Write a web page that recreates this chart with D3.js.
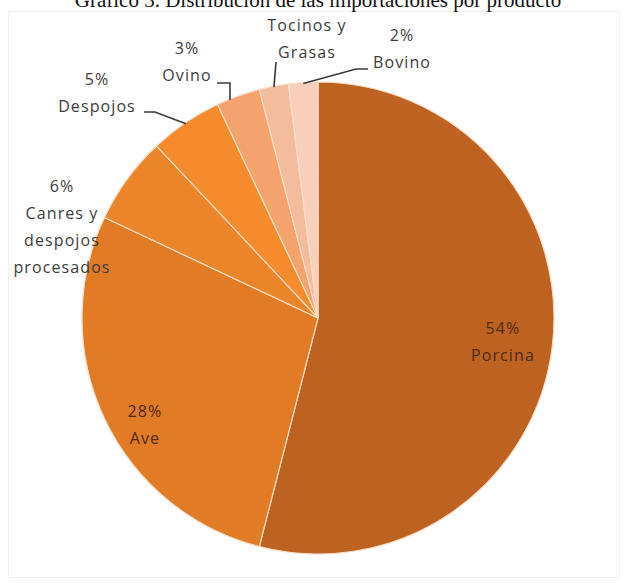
<!DOCTYPE html>
<html>
<head>
<meta charset="utf-8">
<script src="https://cdn.jsdelivr.net/npm/d3@7"></script>
<style>
  html, body { margin: 0; padding: 0; background: #ffffff; }
  svg { display: block; }
</style>
</head>
<body>
<svg id="chart" width="627" height="584"></svg>
<script>
// Meat import shares by product (percent)
const categories = ["Porcina", "Ave", "Canres y despojos procesados", "Despojos", "Ovino", "Tocinos y Grasas", "Bovino"];
const shares = [54, 28, 6, 5, 3, 2, 2];
// Label text lines per slice
const labelLines = [
  ["54%", "Porcina"],
  ["28%", "Ave"],
  ["6%", "Canres y", "despojos", "procesados"],
  ["5%", "Despojos"],
  ["3%", "Ovino"],
  ["Tocinos y", "Grasas"],
  ["2%", "Bovino"]
];
const titleText = "Gráfico 3. Distribución de las importaciones por producto";

const sliceColors = ["#BD6221", "#E27B25", "#EC8429", "#F58B2C", "#F4A36D", "#F3BC9C", "#F7CFBA"];

const W = 627, H = 584;
const cx = 318, cy = 318, R = 236;

const svg = d3.select("#chart");

// faint chart frame
svg.append("rect")
  .attr("x", 8.5).attr("y", 11.5).attr("width", 611).attr("height", 566)
  .attr("fill", "none").attr("stroke", "#f1f1f1").attr("stroke-width", 1);

// title, running off the top edge
svg.append("text")
  .attr("x", 318).attr("y", 7)
  .attr("text-anchor", "middle")
  .attr("font-family", "'Liberation Serif', serif")
  .attr("font-size", 21)
  .attr("fill", "#111")
  .text(titleText);

const data = categories.map((c, i) => ({ name: c, value: shares[i], lines: labelLines[i], color: sliceColors[i] }));

const pie = d3.pie().sort(null).value(d => d.value);
const arcs = pie(data);
const arc = d3.arc().innerRadius(0).outerRadius(R);
const edgeArc = d3.arc().innerRadius(R - 1).outerRadius(R - 1);

const g = svg.append("g").attr("transform", `translate(${cx},${cy})`);

g.selectAll("path.slice")
  .data(arcs)
  .join("path")
  .attr("class", "slice")
  .attr("d", arc)
  .attr("fill", d => d.data.color)
  .attr("stroke", "#F8DEC8")
  .attr("stroke-width", 1.2)
  .attr("stroke-linejoin", "round");

// Label layout: inside labels sit along the slice bisector; outside labels are anchored
// at a chosen point with a leader line back to the slice edge.
const fontFamily = "'Open Sans', sans-serif";
const fontSize = 16;
const lineGap = 27;

const labelLayout = [
  { inside: true, radius: 0.79, color: "#4E2A10" },
  { inside: true, radius: 0.86, angleShift: -0.11, color: "#4E2A10" },
  { x: 62, y: 192, color: "#3c3c3c" },
  { x: 97, y: 85, color: "#3c3c3c", leader: [[144, 112], [155, 112]] },
  { x: 187, y: 54, color: "#3c3c3c", leader: [[217, 83], [230, 83]], drop: true },
  { x: 307, y: 31, color: "#3c3c3c", leader: [[276, 62]] },
  { x: 402, y: 41, color: "#3c3c3c", leader: [[368, 69], [356, 69]] }
];

arcs.forEach((a, i) => {
  const L = labelLayout[i];
  let x, y;
  if (L.inside) {
    const mid = (a.startAngle + a.endAngle) / 2 + (L.angleShift || 0);
    const rr = R * L.radius;
    const block = (a.data.lines.length - 1) * lineGap;
    x = cx + rr * Math.sin(mid);
    y = cy - rr * Math.cos(mid) - block / 2 + 6;
  } else {
    x = L.x; y = L.y;
  }
  const t = svg.append("text")
    .attr("text-anchor", "middle")
    .attr("font-family", fontFamily)
    .attr("font-size", fontSize)
    .attr("font-weight", 500)
    .attr("letter-spacing", 1.1)
    .attr("fill", L.color);
  a.data.lines.forEach((ln, k) => {
    t.append("tspan").attr("x", x).attr("y", y + k * lineGap).text(ln);
  });

  if (L.leader) {
    let end;
    if (L.drop) {
      // vertical drop from the elbow onto the pie rim
      const lx = L.leader[L.leader.length - 1][0];
      end = [lx, cy - Math.sqrt(R * R - (lx - cx) * (lx - cx)) + 1];
    } else {
      const e = edgeArc.centroid(a);
      end = [cx + e[0], cy + e[1]];
    }
    const pts = L.leader.concat([end]);
    svg.append("path")
      .attr("d", d3.line()(pts))
      .attr("fill", "none")
      .attr("stroke", "#3a3a3a")
      .attr("stroke-width", 1.6);
  }
});
</script>
</body>
</html>
